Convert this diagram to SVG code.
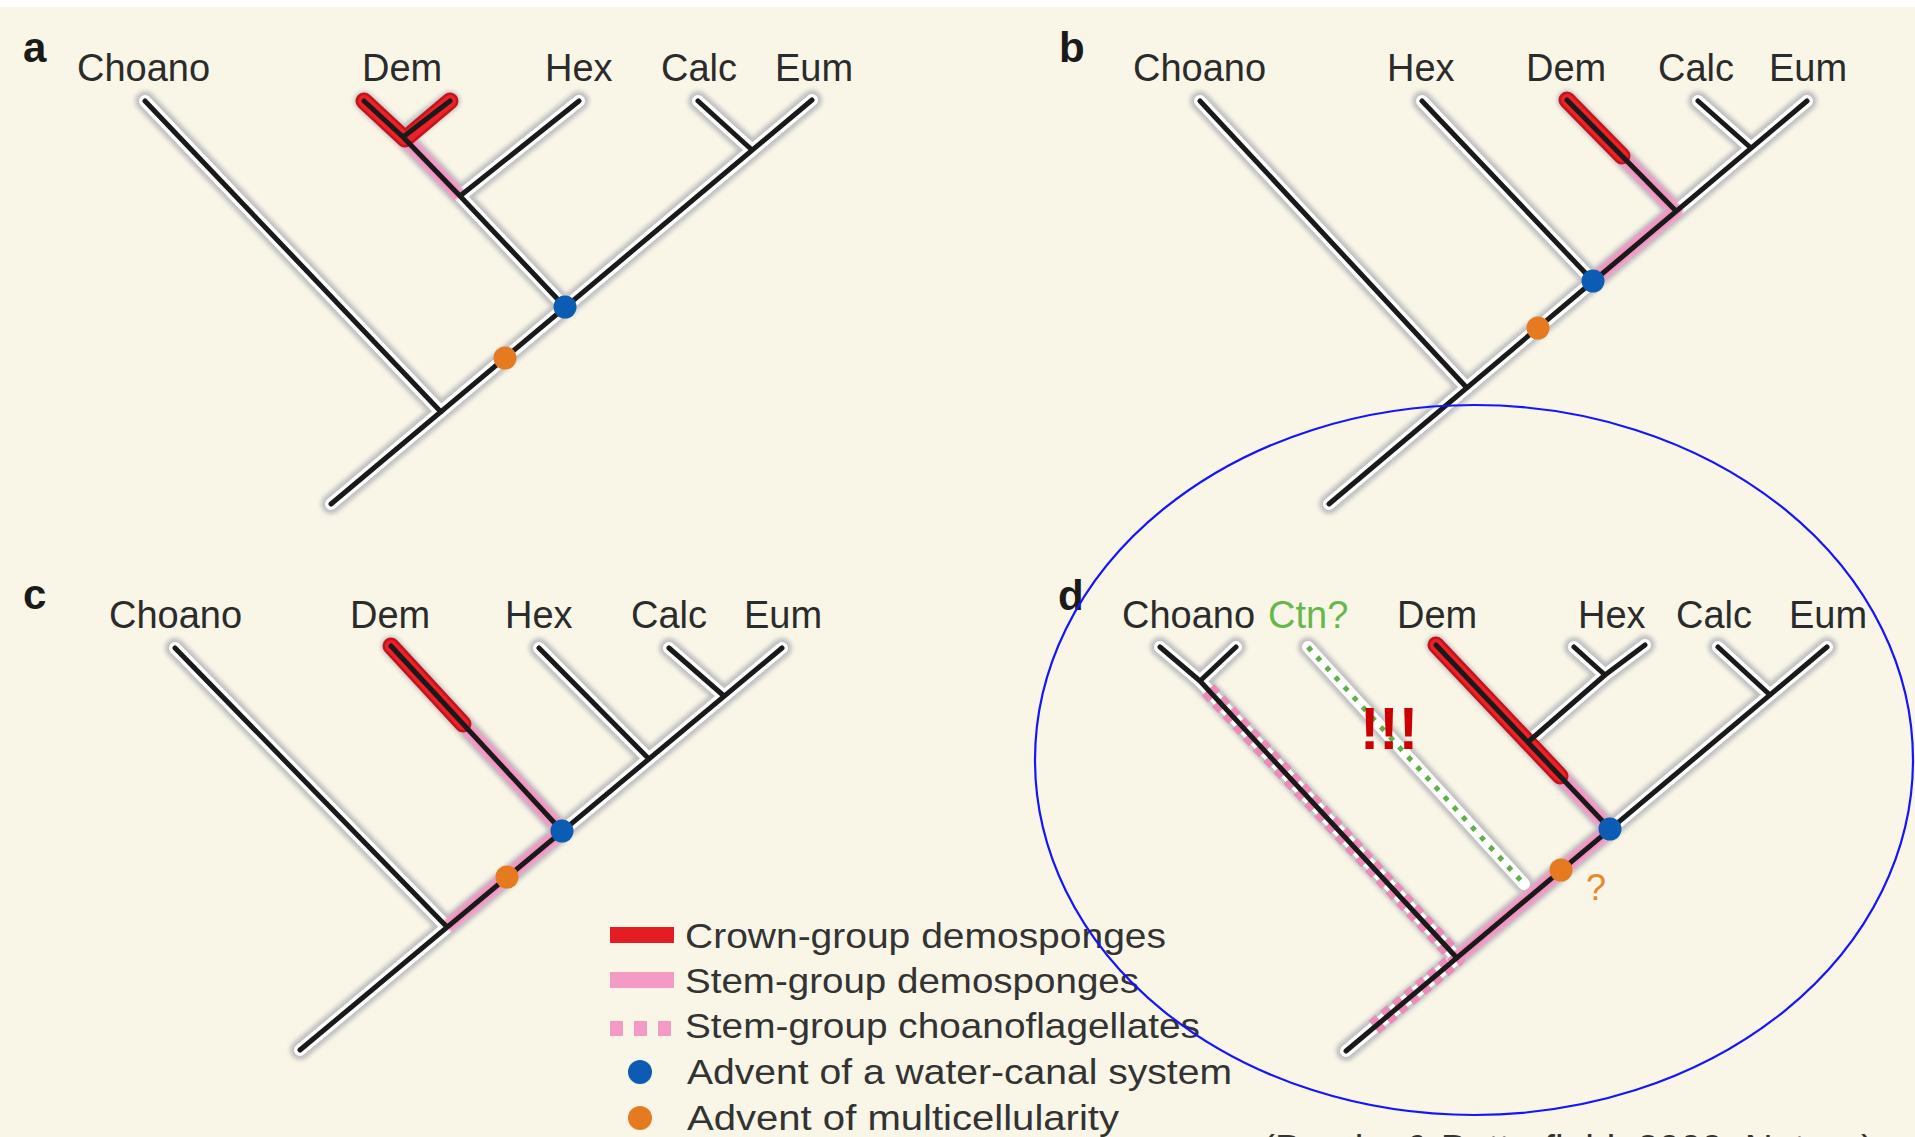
<svg xmlns="http://www.w3.org/2000/svg" xmlns:xlink="http://www.w3.org/1999/xlink" width="1915" height="1137" viewBox="0 0 1915 1137">
  <style>
    .tip { font-family: "Liberation Sans", Arial, sans-serif; font-size: 38px; fill: #2b2b2b; }
    .panel { font-family: "Liberation Sans", Arial, sans-serif; font-size: 42px; font-weight: bold; fill: #1a1a1a; }
    .legend { font-family: "Liberation Sans", Arial, sans-serif; font-size: 35px; fill: #333333; }
    .shadow { fill: none; stroke: #c0c0c0; stroke-width: 20; stroke-linecap: round; stroke-linejoin: round; filter: url(#soft); }
    .halo { fill: none; stroke: #ffffff; stroke-width: 12; stroke-linecap: round; stroke-linejoin: round; }
    .branch { fill: none; stroke: #1a1a1a; stroke-width: 5; stroke-linecap: round; stroke-linejoin: round; }
    .crown-edge { fill: none; stroke: #c4141b; stroke-width: 17; stroke-linecap: round; stroke-linejoin: round; }
    .crown { fill: none; stroke: #ec2228; stroke-width: 12; stroke-linecap: round; stroke-linejoin: round; }
    .stem { fill: none; stroke: #f095c2; stroke-width: 14; stroke-linecap: butt; stroke-linejoin: round; filter: url(#glow); }
    .stem-dash { fill: none; stroke: #eb8cb8; stroke-width: 17; stroke-dasharray: 9 6; stroke-linecap: butt; stroke-linejoin: round; }
    .ctn-dots { fill: none; stroke: #5fb047; stroke-width: 5; stroke-dasharray: 5 8.5; stroke-linecap: butt; }
    .water { fill: #0b5cb2; }
    .multi { fill: #e67a20; }
  </style>
  <defs>
    <filter id="soft" x="-10%" y="-10%" width="120%" height="120%">
      <feGaussianBlur stdDeviation="2.2"/>
    </filter>
    <filter id="glow" x="-10%" y="-10%" width="120%" height="120%">
      <feGaussianBlur stdDeviation="1"/>
    </filter>
    <!-- branch geometry of each tree -->
    <path id="tree-a" d="M145,101 L441,412 M331,504 L812,100 M698,101 L752,150 M565,307 L460,196 L403,137 L364,101 M460,196 L579,101 M403,137 L450,101"/>
    <path id="tree-b" d="M1200,101 L1467,388 M1329,504 L1807,101 M1698,101 L1751,148 M1422,101 L1593,281 M1567,100 L1676,211"/>
    <path id="tree-c" d="M175,648 L447,927 M300,1050 L782,648 M669,648 L724,696 M539,648 L649,759 M391,646 L562,831"/>
    <path id="tree-d" d="M1160,647 L1200,681 L1457,958 M1236,647 L1200,681 M1346,1051 L1827,647 M1718,647 L1770,695 M1436,645 L1610,829 M1528,742 L1605,675 L1645,645 M1574,647 L1605,675"/>
    <path id="ctn-line" d="M1308,647 L1524,884"/>
  </defs>

  <!-- background -->
  <rect x="0" y="0" width="1915" height="1137" fill="#f9f6e8"/>
  <rect x="0" y="0" width="1915" height="7" fill="#ffffff"/>

  <!-- panel a -->
  <g id="panel-a">
    <text class="panel" x="23" y="62">a</text>
    <g id="a-tree">
      <use xlink:href="#tree-a" class="shadow"/>
      <use xlink:href="#tree-a" class="halo"/>
      <path class="stem" d="M403,137 L460,196"/>
      <path class="crown-edge" d="M364,101 L405,139 L450,101"/>
      <path class="crown" d="M364,101 L405,139 L450,101"/>
      <use xlink:href="#tree-a" class="branch"/>
      <circle class="multi" cx="505" cy="358" r="11.5"/>
      <circle class="water" cx="565" cy="307" r="11.5"/>
    </g>
    <text id="a-choano" class="tip" x="77" y="81">Choano</text>
    <text id="a-dem" class="tip" x="362" y="81">Dem</text>
    <text id="a-hex" class="tip" x="545" y="81">Hex</text>
    <text id="a-calc" class="tip" x="661" y="81">Calc</text>
    <text id="a-eum" class="tip" x="775" y="81">Eum</text>
  </g>

  <!-- panel b -->
  <g id="panel-b">
    <text class="panel" x="1059" y="62">b</text>
    <g id="b-tree">
      <use xlink:href="#tree-b" class="shadow"/>
      <use xlink:href="#tree-b" class="halo"/>
      <path class="stem" d="M1622,156 L1676,211 L1593,281"/>
      <path class="crown-edge" d="M1567,100 L1622,156"/>
      <path class="crown" d="M1567,100 L1622,156"/>
      <use xlink:href="#tree-b" class="branch"/>
      <circle class="multi" cx="1538" cy="328" r="11.5"/>
      <circle class="water" cx="1593" cy="281" r="11.5"/>
    </g>
    <text id="b-choano" class="tip" x="1133" y="81">Choano</text>
    <text id="b-hex" class="tip" x="1387" y="81">Hex</text>
    <text id="b-dem" class="tip" x="1526" y="81">Dem</text>
    <text id="b-calc" class="tip" x="1658" y="81">Calc</text>
    <text id="b-eum" class="tip" x="1769" y="81">Eum</text>
  </g>

  <!-- panel c -->
  <g id="panel-c">
    <text class="panel" x="23" y="609">c</text>
    <g id="c-tree">
      <use xlink:href="#tree-c" class="shadow"/>
      <use xlink:href="#tree-c" class="halo"/>
      <path class="stem" d="M463,724 L562,831 L447,927"/>
      <path class="crown-edge" d="M391,646 L463,724"/>
      <path class="crown" d="M391,646 L463,724"/>
      <use xlink:href="#tree-c" class="branch"/>
      <circle class="multi" cx="507" cy="877" r="11.5"/>
      <circle class="water" cx="562" cy="831" r="11.5"/>
    </g>
    <text id="c-choano" class="tip" x="109" y="628">Choano</text>
    <text id="c-dem" class="tip" x="350" y="628">Dem</text>
    <text id="c-hex" class="tip" x="505" y="628">Hex</text>
    <text id="c-calc" class="tip" x="631" y="628">Calc</text>
    <text id="c-eum" class="tip" x="744" y="628">Eum</text>
  </g>

  <!-- panel d -->
  <g id="panel-d">
    <text class="panel" x="1058" y="610">d</text>
    <g id="d-tree">
      <use xlink:href="#tree-d" class="shadow"/>
      <use xlink:href="#ctn-line" class="shadow"/>
      <use xlink:href="#tree-d" class="halo"/>
      <use xlink:href="#ctn-line" class="halo"/>
      <path class="stem-dash" d="M1208,690 L1457,958 L1373,1028"/>
      <path class="stem" d="M1560,776 L1610,829 L1457,958"/>
      <path class="crown-edge" d="M1436,645 L1560,776"/>
      <path class="crown" d="M1436,645 L1560,776"/>
      <use xlink:href="#tree-d" class="branch"/>
      <use xlink:href="#ctn-line" class="ctn-dots"/>
      <circle class="multi" cx="1561" cy="870" r="11.5"/>
      <circle class="water" cx="1610" cy="829" r="11.5"/>
    </g>
    <text id="d-choano" class="tip" x="1122" y="628">Choano</text>
    <text id="d-ctn" class="tip" x="1268" y="628" style="fill:#66b84a">Ctn?</text>
    <text id="d-dem" class="tip" x="1397" y="628">Dem</text>
    <text id="d-hex" class="tip" x="1578" y="628">Hex</text>
    <text id="d-calc" class="tip" x="1676" y="628">Calc</text>
    <text id="d-eum" class="tip" x="1789" y="628">Eum</text>
    <text id="d-alert" x="1360" y="749" textLength="58" lengthAdjust="spacingAndGlyphs" style="font-family:'Liberation Sans', Arial, sans-serif; font-size:60px; font-weight:bold; fill:#cc0000">!!!</text>
    <text id="d-query" x="1586" y="900" style="font-family:'Liberation Sans', Arial, sans-serif; font-size:36px; fill:#e8892b">?</text>
  </g>

  <!-- legend -->
  <g id="legend">
    <rect x="610" y="927" width="64" height="16" fill="#e41d25"/>
    <text class="legend" x="685" y="948" textLength="481" lengthAdjust="spacingAndGlyphs">Crown-group demosponges</text>
    <rect x="610" y="972" width="64" height="16" fill="#f39bc4"/>
    <text class="legend" x="685" y="993" textLength="454" lengthAdjust="spacingAndGlyphs">Stem-group demosponges</text>
    <rect x="610" y="1021" width="13" height="15" fill="#f39bc4"/>
    <rect x="634" y="1021" width="13" height="15" fill="#f39bc4"/>
    <rect x="658" y="1021" width="13" height="15" fill="#f39bc4"/>
    <text class="legend" x="685" y="1038" textLength="515" lengthAdjust="spacingAndGlyphs">Stem-group choanoflagellates</text>
    <circle class="water" cx="640" cy="1072" r="12"/>
    <text class="legend" x="687" y="1084" textLength="545" lengthAdjust="spacingAndGlyphs">Advent of a water-canal system</text>
    <circle class="multi" cx="640" cy="1118" r="12"/>
    <text class="legend" x="687" y="1130" textLength="432" lengthAdjust="spacingAndGlyphs">Advent of multicellularity</text>
  </g>

  <!-- source line, running off the lower edge -->
  <text id="source" x="1262" y="1162" textLength="612" lengthAdjust="spacingAndGlyphs" style="font-family:'Liberation Sans', Arial, sans-serif; font-size:38px; fill:#333333">(Brocks &amp; Butterfield, 2009, Nature)</text>

  <!-- highlight ring around panel d -->
  <ellipse id="highlight" cx="1474" cy="760" rx="439" ry="355" fill="none" stroke="#1414ff" stroke-width="2.2"/>
</svg>
